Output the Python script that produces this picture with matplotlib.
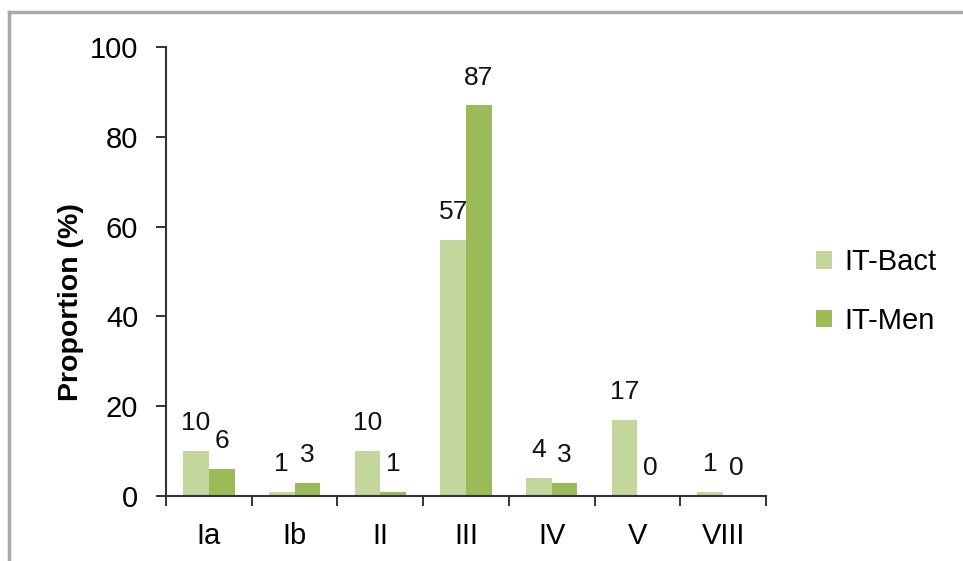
import matplotlib.pyplot as plt
import numpy as np
from matplotlib.lines import Line2D

categories = ["Ia", "Ib", "II", "III", "IV", "V", "VIII"]
it_bact = [10, 1, 10, 57, 4, 17, 1]
it_men = [6, 3, 1, 87, 3, 0, 0]
series_names = ["IT-Bact", "IT-Men"]
yticks = [0, 20, 40, 60, 80, 100]

plt.rcParams['font.family'] = ['Liberation Sans', 'DejaVu Sans']

fig = plt.figure(figsize=(9.63, 5.61), dpi=100)
ax = fig.add_axes([166 / 963, 1 - 496 / 561, 600 / 963, 449 / 561])

x = np.arange(len(categories))
w = 0.3
light, dark = "#c3d69b", "#9bbb59"
b1 = ax.bar(x - w / 2, it_bact, width=w, color=light, label=series_names[0])
b2 = ax.bar(x + w / 2, it_men, width=w, color=dark, label=series_names[1])

# Value labels above each bar
for bars, vals in ((b1, it_bact), (b2, it_men)):
    for rect, v in zip(bars, vals):
        ax.annotate(str(v), xy=(rect.get_x() + rect.get_width() / 2, v),
                    xytext=(0, 20), textcoords="offset points",
                    ha="center", va="center", fontsize=19, color="#111111")

ax.set_xlim(-0.5, len(categories) - 0.5)
ax.set_ylim(0, 100)
ax.set_yticks(yticks)
ax.set_xticks(x)
ax.set_xticklabels(categories)
ax.set_xticks(np.arange(len(categories) + 1) - 0.5, minor=True)
ax.tick_params(axis="x", which="major", length=0, pad=19, labelsize=21)
ax.tick_params(axis="x", which="minor", length=7, width=1.4, direction="out", color="#333333")
ax.tick_params(axis="y", length=7, width=1.4, direction="out", pad=13, labelsize=21, color="#333333")

for s in ("top", "right"):
    ax.spines[s].set_visible(False)
for s in ("left", "bottom"):
    ax.spines[s].set_color("#333333")
    ax.spines[s].set_linewidth(1.5)

ax.set_ylabel("Proportion (%)", fontsize=20.5, fontweight="bold")
ax.yaxis.set_label_coords(-0.137, 0.432)

ax.legend(loc="center left", bbox_to_anchor=(1.04, 0.455), frameon=False,
          fontsize=21, handlelength=0.55, handleheight=0.55, handletextpad=0.4,
          labelspacing=1.05)

# grey frame around the picture
fig.add_artist(Line2D([8.5 / 963, 8.5 / 963], [0, 1 - 12 / 561], transform=fig.transFigure,
                      color="#a8a8a8", lw=2.5))
fig.add_artist(Line2D([8.5 / 963, 1], [1 - 12 / 561, 1 - 12 / 561], transform=fig.transFigure,
                      color="#a8a8a8", lw=2.5))

fig.savefig("out.png", dpi=100)
